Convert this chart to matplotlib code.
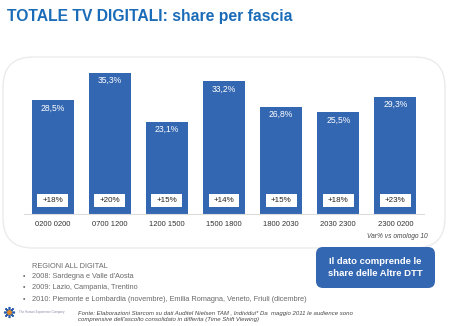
import matplotlib
matplotlib.use("Agg")
import matplotlib.pyplot as plt
from matplotlib.patches import FancyBboxPatch, Rectangle

categories = ['0200 0200', '0700 1200', '1200 1500', '1500 1800', '1800 2030', '2030 2300', '2300 0200']
shares = [28.5, 35.3, 23.1, 33.2, 26.8, 25.5, 29.3]
variations = ['+18%', '+20%', '+15%', '+14%', '+15%', '+18%', '+23%']

W, H = 450, 326
plt.rcParams['font.family'] = ['Liberation Sans', 'DejaVu Sans']
fig = plt.figure(figsize=(W / 100, H / 100), dpi=100)
fig.patch.set_facecolor('white')

# background axes in pixel coords
bg = fig.add_axes([0, 0, 1, 1])
bg.set_xlim(0, W)
bg.set_ylim(H, 0)
bg.axis('off')

BLUE = '#3467b2'

bg.text(7, 17, 'TOTALE TV DIGITALI: share per fascia', color='#1a6cb8',
        fontsize=11.3, fontweight='bold', va='center', ha='left')

box = FancyBboxPatch((3, 57), 442, 191, boxstyle='round,pad=0,rounding_size=30',
                     fc='white', ec='#ebebeb', lw=1.0)
bg.add_patch(box)

bg.text(428, 237, 'Var% vs omologo 10', fontsize=4.8, style='italic', color='#444444',
        ha='right', va='center')

bullets_title = 'REGIONI ALL DIGITAL'
bullets = ["2008: Sardegna e Valle d'Aosta",
           '2009: Lazio, Campania, Trentino',
           '2010: Piemonte e Lombardia (novembre), Emilia Romagna, Veneto, Friuli (dicembre)']
bg.text(32, 266, bullets_title, fontsize=5.3, color='#6a6a6a', va='center')
for i, b in enumerate(bullets):
    y = 276.5 + i * 11.3
    bg.text(23, y, '•', fontsize=5, color='#6a6a6a', va='center')
    bg.text(32, y, b, fontsize=5.3, color='#6a6a6a', va='center')

note = FancyBboxPatch((316, 247), 119, 41, boxstyle='round,pad=0,rounding_size=7',
                      fc=BLUE, ec='none')
bg.add_patch(note)
bg.text(375.5, 267.5, 'Il dato comprende le\nshare delle Altre DTT', color='white',
        fontsize=6.8, fontweight='bold', ha='center', va='center', linespacing=1.3)

# logo
bg.plot([9], [312], marker=(8, 2, 0), ms=8, color='#2b5da8', mew=1.2)
bg.plot([9], [312], marker='o', ms=2.5, color='#e08a2a')
bg.text(19, 312, 'The Human Experience Company', fontsize=2.2, color='#8a8aa8', va='center')

bg.text(78, 313, "Fonte: Elaborazioni Starcom su dati Auditel Nielsen TAM , Individui* Da  maggio 2011 le audience sono",
        fontsize=4.35, style='italic', color='#444444', va='center')
bg.text(78, 320, "comprensive dell'ascolto consolidato in differita (Time Shift Viewing)",
        fontsize=4.35, style='italic', color='#444444', va='center')

# bar axes
left_px, right_px = 24, 424
base_px, top_px = 214, 54
ax = fig.add_axes([left_px / W, (H - base_px) / H, (right_px - left_px) / W, (base_px - top_px) / H])
ax.set_xlim(-0.5, len(categories) - 0.5)
ax.set_ylim(0, 40)
ax.patch.set_alpha(0)
for s in ['top', 'right', 'left']:
    ax.spines[s].set_visible(False)
ax.spines['bottom'].set_color('#dcdcdc')
ax.spines['bottom'].set_linewidth(0.8)
ax.set_yticks([])

x = list(range(len(categories)))
ax.bar(x, shares, width=0.735, color=BLUE, zorder=2)
ax.set_xticks(x)
ax.set_xticklabels(categories, fontsize=5.5, color='#333333')
ax.tick_params(axis='x', length=0, pad=5)

for xi, v, var in zip(x, shares, variations):
    ax.text(xi, v - 2.0, f'{v:.1f}%'.replace('.', ','), color='white', fontsize=6.2,
            ha='center', va='center', zorder=3)
    ax.add_patch(Rectangle((xi - 0.27, 1.75), 0.54, 3.25, fc='white', ec='none', zorder=3))
    ax.text(xi, 3.4, var, color='#222222', fontsize=5.8, ha='center', va='center', zorder=4)

fig.savefig('out.png', dpi=100, facecolor='white')
